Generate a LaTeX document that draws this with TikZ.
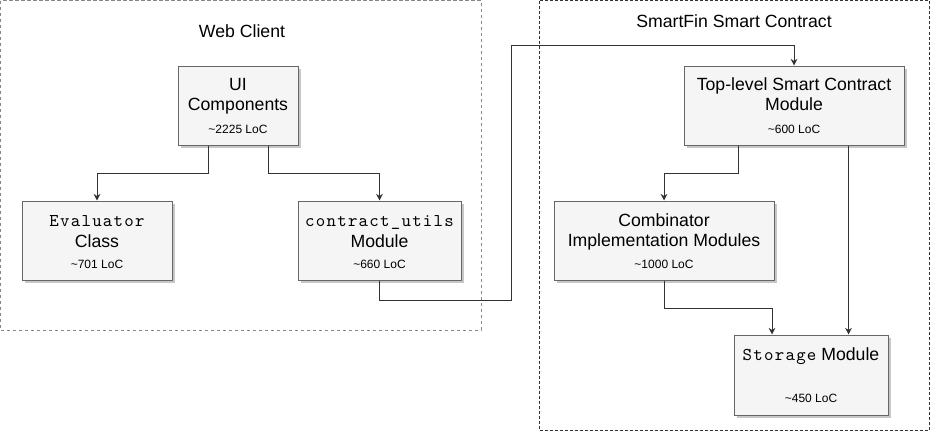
\documentclass[tikz,border=0pt]{standalone}
\usepackage{fontspec}
\setmainfont{Liberation Sans}
\newfontfamily\courfont{lmmono10-regular.otf}[LetterSpace=7]
\usetikzlibrary{calc,shadows,arrows.meta}
\definecolor{boxfill}{HTML}{F5F5F5}
\definecolor{boxline}{HTML}{666666}
\definecolor{edgecol}{HTML}{333333}
\definecolor{webborder}{HTML}{888888}
\definecolor{scborder}{HTML}{333333}
\newcommand{\cour}[1]{{\courfont\fontsize{13.5}{16}\selectfont #1}}
\begin{document}
\begin{tikzpicture}[x=0.75pt,y=-0.75pt,
 box/.style={draw=boxline, fill=boxfill, line width=0.75pt, inner sep=0pt,
   drop shadow={shadow xshift=2.25pt, shadow yshift=-2.25pt, fill=black, opacity=0.22}},
 txt/.style={anchor=base, inner sep=0pt, font=\fontsize{13.25}{16}\selectfont},
 loc/.style={anchor=base, inner sep=0pt, font=\fontsize{9}{11}\selectfont},
 arr/.style={draw=edgecol, line width=0.75pt, -{Stealth[length=5pt,width=5pt]}},
 webframe/.style={draw=webborder, line width=0.75pt, dash pattern=on 2.5pt off 2pt},
 scframe/.style={draw=scborder, line width=0.75pt, dash pattern=on 2.25pt off 1.5pt},
]
\useasboundingbox (0,0) rectangle (930,432);

% containers
\draw[webframe] (0.5,0.5) rectangle (481,330);
\draw[scframe] (539,0.5) rectangle (929,430);
\node[txt] (webtitle) at (242,37) {Web Client};
\node[txt] (sctitle) at (734,27) {SmartFin Smart Contract};

% boxes
\node[box, minimum width=90pt, minimum height=59.25pt] (ui) at (238,105.5) {};
\node[box, minimum width=112.5pt, minimum height=59.25pt] (ev) at (97,240.5) {};
\node[box, minimum width=122.25pt, minimum height=59.25pt] (cu) at (379.5,240.5) {};
\node[box, minimum width=165pt, minimum height=59.25pt] (top) at (794,105.5) {};
\node[box, minimum width=165pt, minimum height=59.25pt] (comb) at (664,240.5) {};
\node[box, minimum width=115.5pt, minimum height=60pt] (stor) at (811,375) {};

% texts
\node[txt] (ui1) at (238,90) {UI};
\node[txt] (ui2) at (238,110.5) {Components};
\node[loc] (ui3) at (238,133) {\textasciitilde 2225 LoC};

\node[txt] (ev1) at (97,226.5) {\cour{Evaluator}};
\node[txt] (ev2) at (97,247) {Class};
\node[loc] (ev3) at (97,268.5) {\textasciitilde 701 LoC};

\node[txt] (cu1) at (379.5,226.5) {\cour{contract\_utils}};
\node[txt] (cu2) at (379.5,247) {Module};
\node[loc] (cu3) at (379.5,268.5) {\textasciitilde 660 LoC};

\node[txt] (top1) at (794,90.5) {Top-level Smart Contract};
\node[txt] (top2) at (794,110.5) {Module};
\node[loc] (top3) at (794,133) {\textasciitilde 600 LoC};

\node[txt] (comb1) at (664,226.5) {Combinator};
\node[txt] (comb2) at (664,246.5) {Implementation Modules};
\node[loc] (comb3) at (664,268.5) {\textasciitilde 1000 LoC};

\node[txt] (stor1) at (811,360) {\cour{Storage} Module};
\node[loc] (stor2) at (811,402.5) {\textasciitilde 450 LoC};

% connectors
\draw[arr] ($(ui.south)+(-30,0)$) -- ++(0,28) -| (ev.north);
\draw[arr] ($(ui.south)+(30,0)$) -- ++(0,28) -| (cu.north);
\coordinate (b1) at (511,300);
\coordinate (b2) at (511,45);
\draw[arr] (cu.south) |- (b1) -- (b2) -| (top.north);
\draw[arr] ($(top.south)+(-56,0)$) -- ++(0,28) -| (comb.north);
\coordinate (t2) at ($(top.south)+(54.5,0)$);
\draw[arr] (t2) -- (t2 |- stor.north);
\coordinate (s1) at ($(stor.north)+(-39,0)$);
\draw[arr] (comb.south) -- ++(0,28) -| (s1);
\end{tikzpicture}
\end{document}
